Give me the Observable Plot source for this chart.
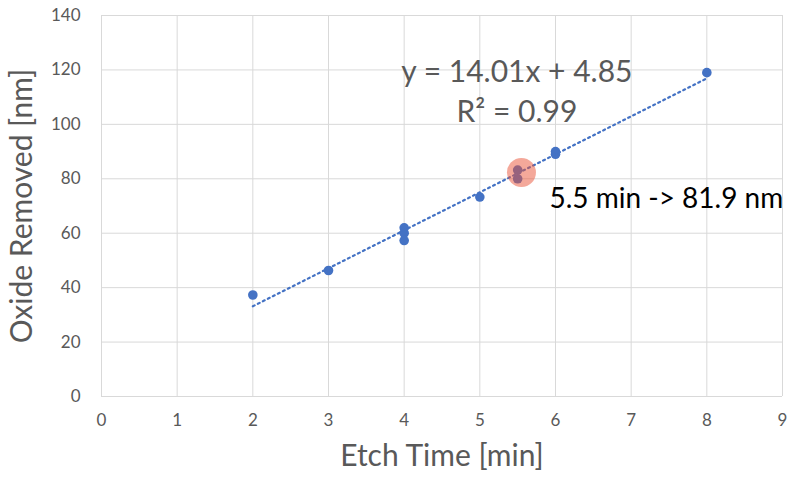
<!DOCTYPE html>
<html>
<head>
<meta charset="utf-8">
<script src="https://cdn.jsdelivr.net/npm/d3@7"></script>
<script src="https://cdn.jsdelivr.net/npm/@observablehq/plot@0.6"></script>
<style>
  html, body { margin: 0; padding: 0; background: #fff; }
  #chart svg { display: block; }
</style>
</head>
<body>
<div id="chart"></div>
<script>
const etchTime = [2, 3, 4, 4, 4, 5, 5.5, 5.5, 6, 6, 8];
const oxideRemoved = [37.3, 46.3, 62, 60, 57.3, 73.3, 83.2, 80, 90, 89, 119];
const xTicks = [0, 1, 2, 3, 4, 5, 6, 7, 8, 9];
const yTicks = [0, 20, 40, 60, 80, 100, 120, 140];
const highlightPoint = [{x: 5.55, y: 82.3}];
const equationText = "y = 14.01x + 4.85";
const r2Text = "R² = 0.99";
const noteText = "5.5 min -> 81.9 nm";
const xTitle = "Etch Time [min]";
const yTitle = "Oxide Removed [nm]";

const data = etchTime.map((x, i) => ({x, y: oxideRemoved[i]}));
const gray = "#595959";

const chart = Plot.plot({
  width: 787,
  height: 478,
  marginLeft: 101,
  marginRight: 5,
  marginTop: 15,
  marginBottom: 82,
  style: {fontFamily: "Lato, 'Open Sans', sans-serif", background: "#fff", overflow: "hidden"},
  x: {domain: [0, 9]},
  y: {domain: [0, 140]},
  marks: [
    Plot.gridX({ticks: xTicks, stroke: "#d9d9d9", strokeOpacity: 1, strokeWidth: 1}),
    Plot.gridY({ticks: yTicks, stroke: "#d9d9d9", strokeOpacity: 1, strokeWidth: 1}),
    Plot.axisX({ticks: xTicks, tickSize: 0, tickPadding: 17, fontSize: 17, fill: gray, label: null}),
    Plot.axisY({ticks: yTicks, tickSize: 0, tickPadding: 21, fontSize: 17, fill: gray, label: null}),
    Plot.dot(data, {x: "x", y: "y", r: 4.8, fill: "#4472C4", stroke: "none"}),
    Plot.linearRegressionY(data, {x: "x", y: "y", ci: 0, stroke: "#4472C4", strokeWidth: 2.2, strokeDasharray: "2,3.6"}),
    Plot.dot(highlightPoint, {x: "x", y: "y", r: 14.5, fill: "#E95135", fillOpacity: 0.5, stroke: "none"}),
    Plot.text([equationText], {x: 5.49, y: 119, text: d => d, fontSize: 30, fill: gray, textAnchor: "middle"}),
    Plot.text([r2Text], {x: 5.49, y: 104.5, text: d => d, fontSize: 30, fill: gray, textAnchor: "middle"}),
    Plot.text([noteText], {x: 5.92, y: 72.5, text: d => d, fontSize: 28, fill: "#000", textAnchor: "start"}),
    Plot.text([xTitle], {frameAnchor: "bottom", text: d => d, dy: 69, fontSize: 30, fill: gray}),
    Plot.text([yTitle], {frameAnchor: "left", text: d => d, dx: -79, rotate: -90, textAnchor: "middle", fontSize: 30, fill: gray})
  ]
});
document.getElementById("chart").append(chart);
</script>
</body>
</html>
